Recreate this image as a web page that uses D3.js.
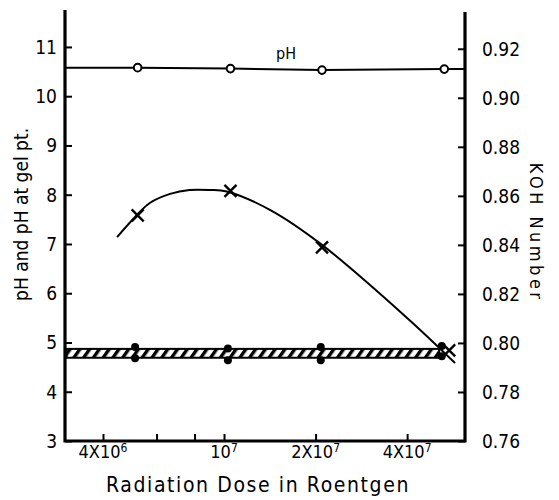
<!DOCTYPE html>
<html>
<head>
<meta charset="utf-8">
<script src="https://cdn.jsdelivr.net/npm/d3@7"></script>
<style>
  body { margin: 0; background: #fff; }
  text { font-family: "DejaVu Sans Condensed", "DejaVu Sans", sans-serif; fill: #000; }
</style>
</head>
<body>
<div id="chart"></div>
<script>
// pH of the sol (open circles)
const phDose = [5.2e6, 1.05e7, 2.1e7, 5.3e7];
const phValues = [10.58, 10.56, 10.53, 10.55];

// pH at gel point (filled dots, upper and lower readings)
const gelDose = [5.1e6, 1.03e7, 2.08e7, 5.2e7];
const gelUpper = [4.91, 4.88, 4.91, 4.93];
const gelLower = [4.68, 4.64, 4.64, 4.72];
const bandDose = [3e6, 5.1e7];
const bandPh = [4.69, 4.87];

// KOH number (crosses) and the hand drawn curve through them
const kohDose = [5.2e6, 1.05e7, 2.1e7, 5.5e7];
const kohValues = [0.852, 0.862, 0.839, 0.797];
const fitDose = [4.45e6, 5.1e6, 5.7e6, 6.65e6, 7.7e6, 9.0e6, 1.02e7, 1.42e7, 2.1e7, 4.0e7, 5.75e7];
const fitKoh = [0.8432, 0.8514, 0.8571, 0.8608, 0.8624, 0.8624, 0.8618, 0.8542, 0.8400, 0.8102, 0.7918];

// ticks
const xTicks = [4e6, 6e6, 8e6, 1e7, 2e7, 4e7];
const xTickLabels = { 4e6: ["4X10", "6"], 1e7: ["10", "7"], 2e7: ["2X10", "7"], 4e7: ["4X10", "7"] };
const phTicks = [3, 4, 5, 6, 7, 8, 9, 10, 11];
const kohTicks = [0.76, 0.78, 0.80, 0.82, 0.84, 0.86, 0.88, 0.90, 0.92];

const width = 559;
const height = 500;

const svg = d3.select('#chart')
    .append('svg')
    .attr('width', width)
    .attr('height', height);

const x = d3.scaleLog()
    .domain([3e6, 6.2e7])
    .range([65, 465]);

const yPh = d3.scaleLinear()
    .domain([3, 11.75])
    .range([441, 10]);

const yKoh = d3.scaleLinear()
    .domain([0.76, 0.935])
    .range([441, 12]);

// hatch pattern for the gel band
const defs = svg.append('defs');
defs.append('pattern')
    .attr('id', 'hatch')
    .attr('patternUnits', 'userSpaceOnUse')
    .attr('width', 8)
    .attr('height', 8)
    .attr('patternTransform', 'rotate(35)')
  .append('rect')
    .attr('width', 3.4)
    .attr('height', 8)
    .attr('fill', '#000');

// axes
function leftAxis(g) {
  g.attr('transform', `translate(${x.range()[0]},0)`)
    .call(d3.axisRight(yPh).tickValues(phTicks).tickSize(7).tickFormat(''))
    .call(g => g.select('.domain').remove());
  g.selectAll('.tick line').attr('stroke-width', 2);
  g.selectAll('.label')
    .data(phTicks)
    .join('text')
      .attr('class', 'label')
      .attr('x', -8)
      .attr('y', d => yPh(d))
      .attr('dy', '0.36em')
      .attr('text-anchor', 'end')
      .attr('font-size', 19)
      .text(d => d);
}

function rightAxis(g) {
  g.attr('transform', `translate(${x.range()[1]},0)`)
    .call(d3.axisLeft(yKoh).tickValues(kohTicks).tickSize(7).tickFormat(''))
    .call(g => g.select('.domain').remove());
  g.selectAll('.tick line').attr('stroke-width', 2);
  g.selectAll('.label')
    .data(kohTicks)
    .join('text')
      .attr('class', 'label')
      .attr('x', 17)
      .attr('y', d => yKoh(d))
      .attr('dy', '0.36em')
      .attr('text-anchor', 'start')
      .attr('font-size', 19)
      .text(d => d3.format('.2f')(d));
}

function bottomAxis(g) {
  g.attr('transform', `translate(0,${yPh(3)})`)
    .call(d3.axisTop(x).tickValues(xTicks).tickSize(7).tickFormat(''))
    .call(g => g.select('.domain').remove());
  g.selectAll('.tick line').attr('stroke-width', 2);
  const lab = g.selectAll('.label')
    .data(xTicks.filter(d => xTickLabels[d]))
    .join('text')
      .attr('class', 'label')
      .attr('x', d => x(d))
      .attr('y', 17)
      .attr('text-anchor', 'middle')
      .attr('font-size', 18);
  lab.append('tspan').text(d => xTickLabels[d][0]);
  lab.append('tspan')
    .attr('dy', -6)
    .attr('font-size', 12)
    .text(d => xTickLabels[d][1]);
}

svg.append('g').call(leftAxis);
svg.append('g').call(rightAxis);
svg.append('g').call(bottomAxis);

// frame lines (left, bottom, right)
const frame = d3.line()([
  [x.range()[0], yPh.range()[1]],
  [x.range()[0], yPh(3)],
  [x.range()[1], yPh(3)],
  [x.range()[1], yKoh.range()[1]]
]);
svg.append('path')
    .attr('d', frame)
    .attr('fill', 'none')
    .attr('stroke', '#000')
    .attr('stroke-width', 3.2)
    .attr('stroke-linejoin', 'miter');

// pH line across the plot
const phLinePts = [[x.domain()[0], phValues[0]]]
  .concat(phDose.map((d, i) => [d, phValues[i]]))
  .concat([[x.domain()[1], phValues[phValues.length - 1]]]);
svg.append('path')
    .attr('d', d3.line().x(d => x(d[0])).y(d => yPh(d[1]))(phLinePts))
    .attr('fill', 'none')
    .attr('stroke', '#000')
    .attr('stroke-width', 2);

svg.append('g')
  .selectAll('circle')
  .data(phDose.map((d, i) => [d, phValues[i]]))
  .join('circle')
    .attr('cx', d => x(d[0]))
    .attr('cy', d => yPh(d[1]))
    .attr('r', 3.8)
    .attr('fill', '#fff')
    .attr('stroke', '#000')
    .attr('stroke-width', 2);

svg.append('text')
    .attr('x', x(1.6e7))
    .attr('y', yPh(10.75))
    .attr('text-anchor', 'middle')
    .attr('font-size', 16)
    .text('pH');

// gel band
const bx0 = x(bandDose[0]) + 1.5, bx1 = x(bandDose[1]);
const by0 = yPh(bandPh[1]), by1 = yPh(bandPh[0]);
svg.append('rect')
    .attr('x', bx0)
    .attr('y', by0)
    .attr('width', bx1 - bx0)
    .attr('height', by1 - by0)
    .attr('fill', 'url(#hatch)')
    .attr('stroke', '#000')
    .attr('stroke-width', 2);

const dots = gelDose.flatMap((d, i) => [[d, gelUpper[i]], [d, gelLower[i]]]);
svg.append('g')
  .selectAll('circle')
  .data(dots)
  .join('circle')
    .attr('cx', d => x(d[0]))
    .attr('cy', d => yPh(d[1]))
    .attr('r', 4)
    .attr('fill', '#000');

// KOH curve
svg.append('path')
    .attr('d', d3.line()
      .x(d => x(d[0]))
      .y(d => yKoh(d[1]))
      .curve(d3.curveCatmullRom.alpha(0.5))(fitDose.map((d, i) => [d, fitKoh[i]])))
    .attr('fill', 'none')
    .attr('stroke', '#000')
    .attr('stroke-width', 2);

const s = 6;
svg.append('g')
  .selectAll('path')
  .data(kohDose.map((d, i) => [d, kohValues[i]]))
  .join('path')
    .attr('d', d => {
      const cx = x(d[0]), cy = yKoh(d[1]);
      return `M${cx - s},${cy - s}L${cx + s},${cy + s}M${cx + s},${cy - s}L${cx - s},${cy + s}`;
    })
    .attr('stroke', '#000')
    .attr('stroke-width', 2.4);

// axis titles
svg.append('text')
    .attr('transform', `translate(28,${yPh(7.6)}) rotate(-90)`)
    .attr('text-anchor', 'middle')
    .attr('font-size', 19)
    .text('pH and pH at gel pt.');

svg.append('text')
    .attr('transform', `translate(530,${yKoh(0.845)}) rotate(90)`)
    .attr('text-anchor', 'middle')
    .attr('font-size', 18)
    .attr('letter-spacing', 3.5)
    .text('KOH Number');

svg.append('text')
    .attr('x', 258)
    .attr('y', 492)
    .attr('text-anchor', 'middle')
    .attr('font-size', 21)
    .attr('letter-spacing', 1.6)
    .text('Radiation Dose in Roentgen');
</script>
</body>
</html>
